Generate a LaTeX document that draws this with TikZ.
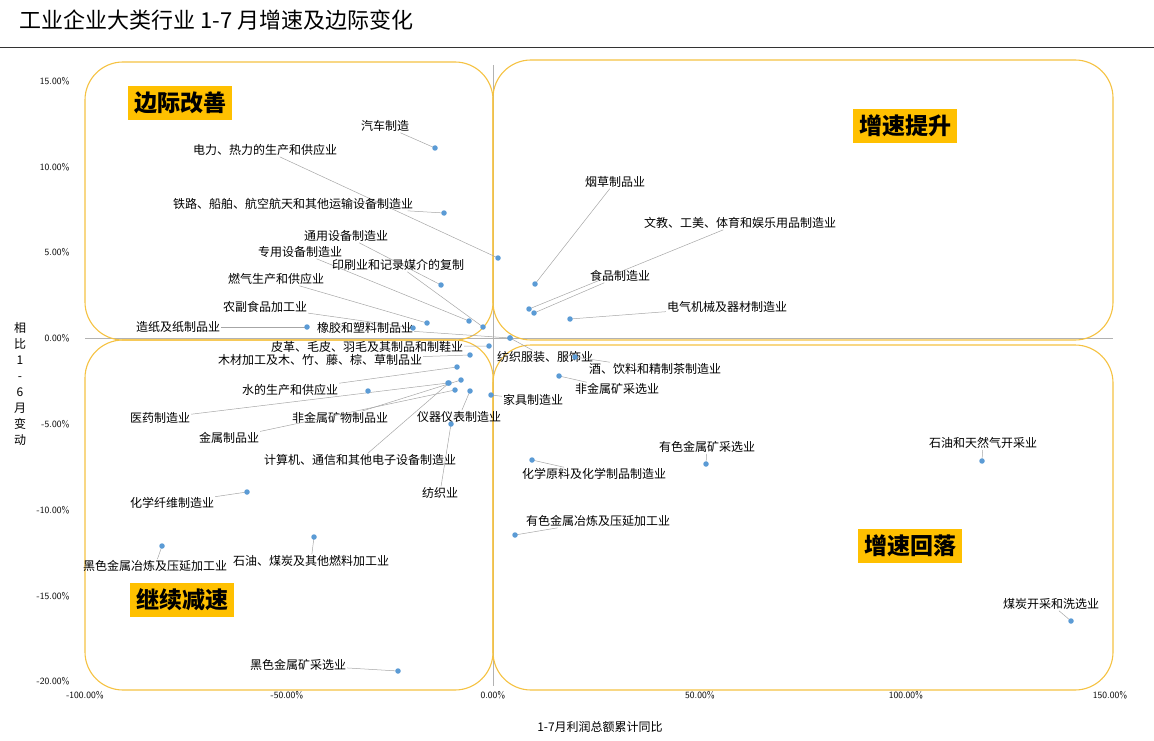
\documentclass[tikz,border=0pt]{standalone}
\usepackage{fontspec}
\newfontfamily\cjk{Noto Sans CJK SC}
\definecolor{qline}{HTML}{F5C242}
\definecolor{qfill}{HTML}{FFC000}
\definecolor{dotc}{HTML}{5B9BD5}
\begin{document}
\begin{tikzpicture}[x=1pt,y=-1pt,
  lab/.style={font=\cjk\fontsize{12}{13}\selectfont,inner sep=1pt},
  tick/.style={font=\fontsize{9.5}{10}\selectfont\sffamily},
  quad/.style={draw=qline,line width=1.1pt,rounded corners=38pt},
  tag/.style={fill=qfill,font=\cjk\bfseries\fontsize{23}{25}\selectfont,inner sep=6pt},
  lead/.style={gray!70,line width=0.5pt},
  dot/.style={circle,fill=dotc,inner sep=0pt,minimum size=5.5pt}]
\useasboundingbox (0,0) rectangle (1154,741);
\node[anchor=west,font=\cjk\fontsize{22}{24}\selectfont] (title) at (16,20) {工业企业大类行业 1-7 月增速及边际变化};
\draw[black!80,line width=0.8pt] (0,47) -- (1154,47);
% axes
\draw[gray!60,line width=0.6pt] (493,65) -- (493,686);
\draw[gray!60,line width=0.6pt] (85,338) -- (1113,338);
% quadrants
\draw[quad] (85,62) rectangle (493,340);
\draw[quad] (493,60) rectangle (1113,340);
\draw[quad] (85,340) rectangle (493,690);
\draw[quad] (493,345) rectangle (1113,690);
\node[tag] (q1) at (180,103) {边际改善};
\node[tag] (q2) at (905,126) {增速提升};
\node[tag] (q3) at (910,546) {增速回落};
\node[tag] (q4) at (182,600) {继续减速};
% ticks
\foreach \v/\y in {15.00\%/81,10.00\%/167,5.00\%/252,0.00\%/338,-5.00\%/424,-10.00\%/510,-15.00\%/596,-20.00\%/681}
  \node[tick,anchor=east] at (73,\y) {\v};
\foreach \v/\x in {-100.00\%/85,-50.00\%/287,0.00\%/493,50.00\%/700,100.00\%/906,150.00\%/1110}
  \node[tick] at (\x,695) {\v};
\node[font=\cjk\fontsize{12}{13}\selectfont] (xt) at (600,727) {1-7月利润总额累计同比};
\node[font=\cjk\fontsize{12}{16}\selectfont,align=center] (yt) at (20,384) {相\\比\\1\\-\\6\\月\\变\\动};
\foreach \n/\lx/\ly/\t/\px/\py in {
 a/385/126/汽车制造/435/148,
 b/265/150/电力、热力的生产和供应业/498/258,
 c/293/204/{铁路、船舶、航空航天和其他运输设备制造业}/444/213,
 d/346/236/通用设备制造业/441/285,
 e/300/252/专用设备制造业/469/321,
 f/398/265/印刷业和记录媒介的复制/483/327,
 g/276/279/燃气生产和供应业/427/323,
 h/265/307/农副食品加工业/413/328,
 i/178/327/造纸及纸制品业/307/327,
 j/365/328/橡胶和塑料制品业/510/338,
 k/367/347/{皮革、毛皮、羽毛及其制品和制鞋业}/489/346,
 l/320/360/{木材加工及木、竹、藤、棕、草制品业}/470/355,
 m/290/390/水的生产和供应业/457/367,
 n/160/418/医药制造业/448/383,
 o/340/418/非金属矿物制品业/461/380,
 p/229/438/金属制品业/455/390,
 q/459/417/仪器仪表制造业/470/391,
 r/360/460/{计算机、通信和其他电子设备制造业}/449/383,
 s/533/400/家具制造业/491/395,
 t/440/493/纺织业/451/424,
 u/615/182/烟草制品业/535/284,
 v/740/223/{文教、工美、体育和娱乐用品制造业}/529/309,
 w/620/276/食品制造业/534/313,
 x/727/307/电气机械及器材制造业/570/319,
 y/545/357/{纺织服装、服饰业}/510/338,
 z/655/369/{酒、饮料和精制茶制造业}/575/357,
 aa/617/389/非金属矿采选业/559/376,
 ab/594/474/化学原料及化学制品制造业/532/460,
 ac/707/447/有色金属矿采选业/706/464,
 ad/983/443/石油和天然气开采业/982/461,
 ae/598/521/有色金属冶炼及压延加工业/515/535,
 af/1051/604/煤炭开采和洗选业/1071/621,
 ag/172/503/化学纤维制造业/247/492,
 ah/155/566/黑色金属冶炼及压延加工业/162/546,
 ai/311/561/{石油、煤炭及其他燃料加工业}/314/537,
 aj/298/665/黑色金属矿采选业/398/671}{
  \coordinate (p\n) at (\px,\py);
  \node[lab] (l\n) at (\lx,\ly) {\t};
  \draw[lead] (l\n) -- (p\n);
}
\foreach \n in {a,b,c,d,e,f,g,h,i,j,k,l,m,n,o,p,q,r,s,t,u,v,w,x,y,z,aa,ab,ac,ad,ae,af,ag,ah,ai,aj}
  \node[dot] at (p\n) {};
\node[dot] (extra) at (368,391) {};
\end{tikzpicture}
\end{document}
